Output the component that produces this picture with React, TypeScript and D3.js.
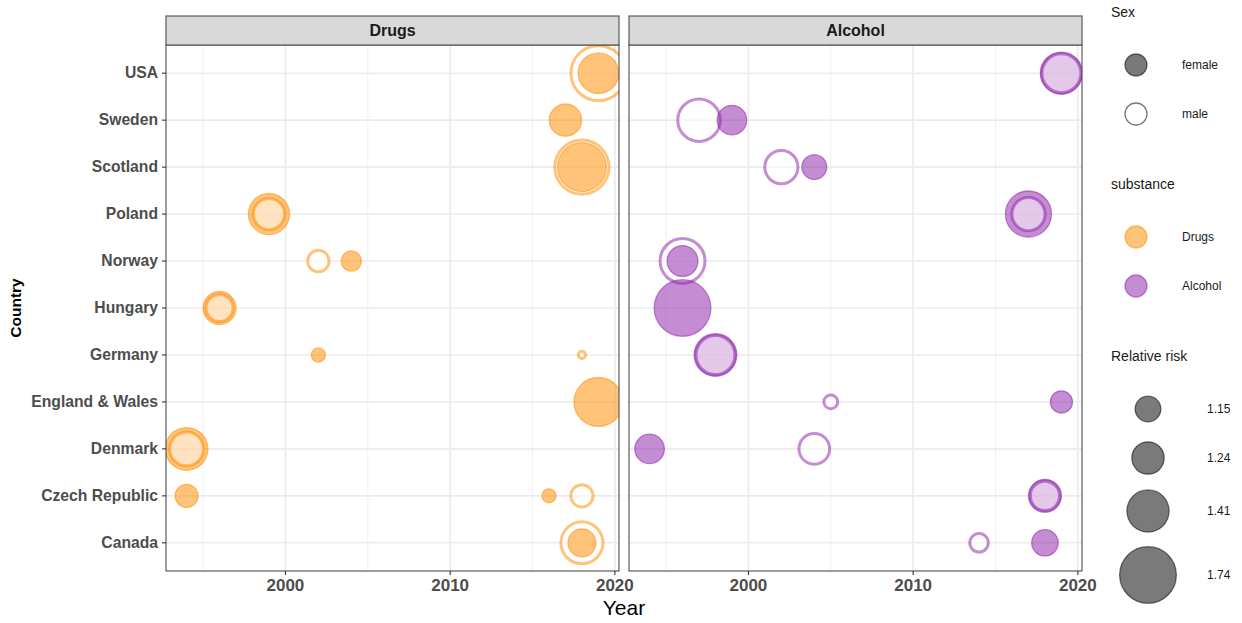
import React from "react";
import * as d3 from "d3";

// ---------- data ----------
const countries = [
  "USA",
  "Sweden",
  "Scotland",
  "Poland",
  "Norway",
  "Hungary",
  "Germany",
  "England & Wales",
  "Denmark",
  "Czech Republic",
  "Canada",
];
const panelNames = ["Drugs", "Alcohol"];
const xMajorTicks = [2000, 2010, 2020];
const xMinorTicks = [1995, 2005, 2015];
const sexLevels = ["female", "male"];
const rrLegendValues = [1.15, 1.24, 1.41, 1.74];

// [country, year, sex, relative risk]  (array order = drawing order)
type Pt = [string, number, string, number];
const drugsPoints: Pt[] = [
  ["USA", 2019, "male", 1.74],
  ["USA", 2019, "female", 1.38],
  ["Sweden", 2017, "female", 1.24],
  ["Scotland", 2018, "male", 1.72],
  ["Scotland", 2018, "female", 1.55],
  ["Poland", 1999, "female", 1.39],
  ["Poland", 1999, "male", 1.25],
  ["Norway", 2002, "male", 1.12],
  ["Norway", 2004, "female", 1.09],
  ["Hungary", 1996, "female", 1.25],
  ["Hungary", 1996, "male", 1.19],
  ["Germany", 2002, "female", 1.04],
  ["Germany", 2018, "male", 1.01],
  ["England & Wales", 2019, "female", 1.55],
  ["Denmark", 1994, "female", 1.42],
  ["Denmark", 1994, "male", 1.29],
  ["Czech Republic", 1994, "female", 1.12],
  ["Czech Republic", 2016, "female", 1.04],
  ["Czech Republic", 2018, "male", 1.13],
  ["Canada", 2018, "male", 1.44],
  ["Canada", 2018, "female", 1.18],
];
const alcoholPoints: Pt[] = [
  ["USA", 2019, "female", 1.41],
  ["USA", 2019, "male", 1.38],
  ["Sweden", 1997, "male", 1.45],
  ["Sweden", 1999, "female", 1.2],
  ["Scotland", 2002, "male", 1.28],
  ["Scotland", 2004, "female", 1.14],
  ["Poland", 2017, "female", 1.49],
  ["Poland", 2017, "male", 1.28],
  ["Norway", 1996, "male", 1.5],
  ["Norway", 1996, "female", 1.22],
  ["Hungary", 1996, "female", 1.74],
  ["Germany", 1998, "female", 1.42],
  ["Germany", 1998, "male", 1.38],
  ["England & Wales", 2005, "male", 1.05],
  ["England & Wales", 2019, "female", 1.11],
  ["Denmark", 1994, "female", 1.2],
  ["Denmark", 2004, "male", 1.24],
  ["Czech Republic", 2018, "female", 1.25],
  ["Czech Republic", 2018, "male", 1.22],
  ["Canada", 2014, "male", 1.09],
  ["Canada", 2018, "female", 1.16],
];
const panelPoints = [drugsPoints, alcoholPoints];

// ---------- styles ----------
const substanceColors = ["#FF8C00", "#8E24AA"];
const ALPHA = 0.52;
const FONT = "'Liberation Sans', Arial, Helvetica, sans-serif";

const W = 1242;
const H = 623;
const panelX = [
  [166, 619],
  [629, 1082],
];
const yTop = 45;
const yBot = 571;
const stripTop = 16;

const areaScale = d3
  .scaleLinear()
  .domain([1.15, 1.74])
  .range([13.5 * 13.5, 29 * 29]);
const rOf = (v: number) => Math.sqrt(Math.max(1, areaScale(v)));

const yScale = d3
  .scalePoint<string>()
  .domain(countries)
  .range([yTop, yBot])
  .padding(0.6);

export default function App() {
  const SW_MALE = 3;
  const SW_FEMALE = 1.3;
  return (
    <div style={{ position: "fixed", left: 0, top: 0 }}>
      <svg width={W} height={H} style={{ display: "block", background: "#fff" }} fontFamily={FONT}>
        <defs>
          {panelX.map(([x0, x1], i) => (
            <clipPath id={`clip${i}`} key={i}>
              <rect x={x0} y={yTop} width={x1 - x0} height={yBot - yTop} />
            </clipPath>
          ))}
        </defs>
        {panelX.map(([x0, x1], i) => {
          const x = d3.scaleLinear().domain([1992.75, 2020.25]).range([x0, x1]);
          const col = substanceColors[i];
          return (
            <g key={i}>
              {xMinorTicks.map((t) => (
                <line key={"mn" + t} x1={x(t)} x2={x(t)} y1={yTop} y2={yBot} stroke="#EBEBEB" strokeWidth={0.8} />
              ))}
              {xMajorTicks.map((t) => (
                <line key={"mj" + t} x1={x(t)} x2={x(t)} y1={yTop} y2={yBot} stroke="#EBEBEB" strokeWidth={1.6} />
              ))}
              {countries.map((c) => (
                <line key={"h" + c} x1={x0} x2={x1} y1={yScale(c)} y2={yScale(c)} stroke="#EBEBEB" strokeWidth={1.6} />
              ))}
              <g clipPath={`url(#clip${i})`}>
                {panelPoints[i].map(([c, yr, sex, rr], k) => {
                  const sw = sex === "female" ? SW_FEMALE : SW_MALE;
                  return (
                    <circle
                      key={k}
                      cx={x(yr)}
                      cy={yScale(c)}
                      r={rOf(rr) - sw / 2}
                      fill={sex === "female" ? col : "#fff"}
                      fillOpacity={ALPHA}
                      stroke={col}
                      strokeOpacity={ALPHA}
                      strokeWidth={sw}
                    />
                  );
                })}
              </g>
              <rect x={x0} y={yTop} width={x1 - x0} height={yBot - yTop} fill="none" stroke="#4d4d4d" strokeWidth={1.1} />
              <rect x={x0} y={stripTop} width={x1 - x0} height={yTop - stripTop} fill="#D9D9D9" stroke="#4d4d4d" strokeWidth={1.1} />
              <text x={(x0 + x1) / 2} y={(stripTop + yTop) / 2 + 1} textAnchor="middle" dominantBaseline="middle" fontSize={16} fontWeight="bold" fill="#1a1a1a">
                {panelNames[i]}
              </text>
              {xMajorTicks.map((t) => (
                <g key={"xt" + t}>
                  <line x1={x(t)} x2={x(t)} y1={yBot} y2={yBot + 4} stroke="#333" strokeWidth={1.1} />
                  <text x={x(t)} y={yBot + 16} textAnchor="middle" dominantBaseline="middle" fontSize={17} fontWeight="bold" fill="#4d4d4d">
                    {t}
                  </text>
                </g>
              ))}
            </g>
          );
        })}
        {countries.map((c) => (
          <g key={"yt" + c}>
            <line x1={panelX[0][0] - 4} x2={panelX[0][0]} y1={yScale(c)} y2={yScale(c)} stroke="#333" strokeWidth={1.1} />
            <text x={panelX[0][0] - 8} y={(yScale(c) as number) + 1} textAnchor="end" dominantBaseline="middle" fontSize={15.7} fontWeight="bold" fill="#4d4d4d">
              {c}
            </text>
          </g>
        ))}
        <text x={624} y={609} textAnchor="middle" dominantBaseline="middle" fontSize={21} fill="#000">
          Year
        </text>
        <text transform={`translate(17,${(yTop + yBot) / 2}) rotate(-90)`} textAnchor="middle" dominantBaseline="middle" fontSize={15.5} fontWeight="bold" fill="#000">
          Country
        </text>

        <g fontSize={12}>
          <text x={1111} y={13} dominantBaseline="middle" fontSize={14} fill="#1a1a1a">Sex</text>
          {sexLevels.map((s, k) => (
            <g key={s}>
              <circle cx={1136} cy={65 + k * 49} r={11} fill={s === "female" ? "#000" : "#fff"} fillOpacity={ALPHA} stroke="#000" strokeOpacity={ALPHA} strokeWidth={1.3} />
              <text x={1182} y={66 + k * 49} dominantBaseline="middle" fill="#1a1a1a">{s}</text>
            </g>
          ))}
          <text x={1111} y={185} dominantBaseline="middle" fontSize={14} fill="#1a1a1a">substance</text>
          {panelNames.map((s, k) => (
            <g key={s}>
              <circle cx={1136} cy={237 + k * 49} r={11} fill={substanceColors[k]} fillOpacity={ALPHA} stroke={substanceColors[k]} strokeOpacity={ALPHA} strokeWidth={1.3} />
              <text x={1182} y={238 + k * 49} dominantBaseline="middle" fill="#1a1a1a">{s}</text>
            </g>
          ))}
          <text x={1111} y={357} dominantBaseline="middle" fontSize={14} fill="#1a1a1a">Relative risk</text>
          {rrLegendValues.map((v, k) => {
            const cy = [409, 458, 511, 575][k];
            return (
              <g key={v}>
                <circle cx={1148} cy={cy} r={rOf(v) - 0.65} fill="#000" fillOpacity={ALPHA} stroke="#000" strokeOpacity={ALPHA} strokeWidth={1.3} />
                <text x={1207} y={cy + 1} dominantBaseline="middle" fill="#1a1a1a">{v.toFixed(2)}</text>
              </g>
            );
          })}
        </g>
      </svg>
    </div>
  );
}
